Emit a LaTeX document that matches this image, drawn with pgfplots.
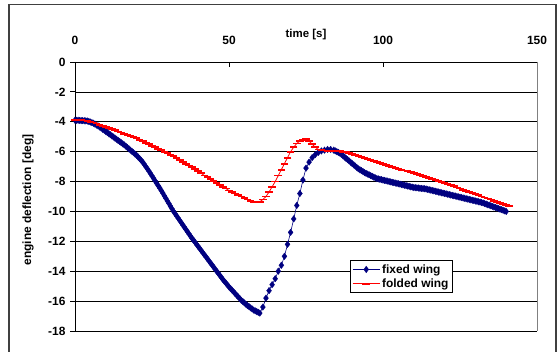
\documentclass[border=0pt]{standalone}
\usepackage{pgfplots}
\pgfplotsset{compat=1.18}
\usepackage{fontspec}
\setmainfont{Liberation Sans}
\definecolor{navy}{RGB}{0,0,128}
\pgfplotsset{legend image code/.code={\draw[mark repeat=2, mark phase=2, #1] plot coordinates {(0bp,0bp) (13.5bp,0bp) (27bp,0bp)};}}
\begin{document}
\begin{tikzpicture}[x=1bp,y=1bp]
\path[use as bounding box] (0,0) rectangle (560,351);
\draw[line width=1.2bp, black!75] (9,-5) -- (9,346.5) -- (556,346.5) -- (556,-5);
\begin{axis}[
  at={(75bp,20bp)}, anchor=south west,
  scale only axis, width=462bp, height=269bp,
  xmin=0, xmax=150, ymin=-18, ymax=0,
  axis x line=top, axis y line=left,
  axis line style={-, black, line width=0.8bp},
  xtick={0,50,100,150}, ytick={-18,-16,...,0},
  xtick align=inside, ytick align=outside,
  major tick length=5bp,
  tick style={black, line width=0.8bp},
  ymajorgrids, grid style={black, line width=0.7bp},
  /pgf/number format/assume math mode=true,
  tick label style={font=\fontsize{12}{14}\selectfont\bfseries},
  xticklabel style={anchor=south, yshift=14bp},
  yticklabel style={anchor=east, xshift=-1bp},
  xlabel={time [s]},
  xlabel style={font=\fontsize{11.5}{13}\selectfont\bfseries, at={(axis description cs:0.5,1)}, anchor=center, yshift=27bp},
  ylabel={engine deflection [deg]},
  ylabel style={font=\fontsize{12}{14}\selectfont\bfseries, at={(axis description cs:-0.1017,0.487)}, anchor=center},
  legend style={at={(axis description cs:0.595,0.141)}, anchor=south west, draw=black, line width=0.8bp, fill=white,
     font=\fontsize{12}{14}\selectfont\bfseries, inner sep=2bp, row sep=0bp},
  legend cell align=left,
  clip=false,
]
\draw[black!50, line width=1bp] (rel axis cs:1,0) -- (rel axis cs:1,1);
\addplot[navy, line width=0.6bp, mark=diamond*, mark size=3.3bp, mark options={fill=navy, draw=navy, line width=0.3bp}] coordinates {
(0,-3.9) (0.5,-3.9) (1,-3.9) (1.5,-3.91) (2,-3.92) (2.5,-3.92) (3,-3.93) (3.5,-3.94) (4,-3.95) (4.5,-3.98)
(5,-4.02) (5.5,-4.06) (6,-4.1) (6.5,-4.16) (7,-4.22) (7.5,-4.28) (8,-4.35) (8.5,-4.42) (9,-4.5) (9.5,-4.57)
(10,-4.65) (10.5,-4.72) (11,-4.8) (11.5,-4.87) (12,-4.95) (12.5,-5.02) (13,-5.1) (13.5,-5.17) (14,-5.25) (14.5,-5.32)
(15,-5.4) (15.5,-5.47) (16,-5.55) (16.5,-5.63) (17,-5.72) (17.5,-5.81) (18,-5.9) (18.5,-5.98) (19,-6.07) (19.5,-6.16)
(20,-6.25) (20.5,-6.36) (21,-6.47) (21.5,-6.58) (22,-6.7) (22.5,-6.85) (23,-7.0) (23.5,-7.15) (24,-7.3) (24.5,-7.46)
(25,-7.62) (25.5,-7.78) (26,-7.95) (26.5,-8.11) (27,-8.27) (27.5,-8.43) (28,-8.6) (28.5,-8.77) (29,-8.95) (29.5,-9.12)
(30,-9.3) (30.5,-9.47) (31,-9.65) (31.5,-9.82) (32,-10.0) (32.5,-10.15) (33,-10.3) (33.5,-10.45) (34,-10.6) (34.5,-10.75)
(35,-10.9) (35.5,-11.05) (36,-11.2) (36.5,-11.35) (37,-11.5) (37.5,-11.65) (38,-11.8) (38.5,-11.93) (39,-12.07) (39.5,-12.21)
(40,-12.35) (40.5,-12.48) (41,-12.62) (41.5,-12.76) (42,-12.9) (42.5,-13.03) (43,-13.17) (43.5,-13.31) (44,-13.45) (44.5,-13.58)
(45,-13.72) (45.5,-13.86) (46,-14.0) (46.5,-14.13) (47,-14.27) (47.5,-14.41) (48,-14.55) (48.5,-14.67) (49,-14.8) (49.5,-14.92)
(50,-15.05) (50.5,-15.16) (51,-15.27) (51.5,-15.38) (52,-15.5) (52.5,-15.61) (53,-15.72) (53.5,-15.83) (54,-15.95) (54.5,-16.03)
(55,-16.12) (55.5,-16.21) (56,-16.3) (56.5,-16.37) (57,-16.45) (57.5,-16.52) (58,-16.6) (58.5,-16.65) (59,-16.7) (59.5,-16.75)
(60,-16.8) (61,-16.4) (62,-15.8) (63,-15.3) (64,-14.9) (65,-14.5) (66,-14.0) (67,-13.6) (68,-13.0) (69,-12.2)
(70,-11.4) (71,-10.5) (72,-9.6) (73,-8.8) (74,-7.9) (75,-7.1) (76,-6.7) (77,-6.4) (78,-6.2) (79,-6.05)
(80,-5.95) (81,-5.9) (82,-5.85) (83,-5.85) (84,-5.9) (84.5,-5.95)
(85,-6.0) (85.5,-6.05) (86,-6.1) (86.5,-6.18) (87,-6.27) (87.5,-6.36) (88,-6.45) (88.5,-6.53) (89,-6.62) (89.5,-6.71)
(90,-6.8) (90.5,-6.88) (91,-6.97) (91.5,-7.06) (92,-7.15) (92.5,-7.21) (93,-7.27) (93.5,-7.33) (94,-7.4) (94.5,-7.45)
(95,-7.5) (95.5,-7.55) (96,-7.6) (96.5,-7.65) (97,-7.7) (97.5,-7.75) (98,-7.8) (98.5,-7.82) (99,-7.85) (99.5,-7.87)
(100,-7.9) (100.5,-7.92) (101,-7.95) (101.5,-7.97) (102,-8.0) (102.5,-8.02) (103,-8.05) (103.5,-8.07) (104,-8.1) (104.5,-8.12)
(105,-8.15) (105.5,-8.17) (106,-8.2) (106.5,-8.22) (107,-8.25) (107.5,-8.27) (108,-8.3) (108.5,-8.32) (109,-8.35) (109.5,-8.37)
(110,-8.4) (110.5,-8.41) (111,-8.42) (111.5,-8.43) (112,-8.45) (112.5,-8.46) (113,-8.47) (113.5,-8.48) (114,-8.5) (114.5,-8.52)
(115,-8.55) (115.5,-8.57) (116,-8.6) (116.5,-8.62) (117,-8.65) (117.5,-8.67) (118,-8.7) (118.5,-8.72) (119,-8.75) (119.5,-8.77)
(120,-8.8) (120.5,-8.82) (121,-8.85) (121.5,-8.87) (122,-8.9) (122.5,-8.92) (123,-8.95) (123.5,-8.97) (124,-9.0) (124.5,-9.02)
(125,-9.05) (125.5,-9.07) (126,-9.1) (126.5,-9.12) (127,-9.15) (127.5,-9.17) (128,-9.2) (128.5,-9.22) (129,-9.25) (129.5,-9.27)
(130,-9.3) (130.5,-9.32) (131,-9.35) (131.5,-9.37) (132,-9.4) (132.5,-9.43) (133,-9.47) (133.5,-9.51) (134,-9.55) (134.5,-9.58)
(135,-9.62) (135.5,-9.66) (136,-9.7) (136.5,-9.73) (137,-9.77) (137.5,-9.81) (138,-9.85) (138.5,-9.88) (139,-9.92) (139.5,-9.96)
(140,-10.0)
};
\addlegendentry{fixed wing}
\addplot[red, line width=0.8bp, mark=-, mark size=3.8bp, mark options={line width=1.8bp}] coordinates {
(0,-3.9) (1,-3.9) (2,-3.9) (3,-3.92) (4,-3.95) (5,-4.0) (6,-4.05) (7,-4.12) (8,-4.2) (9,-4.27)
(10,-4.35) (11,-4.42) (12,-4.5) (13,-4.57) (14,-4.65) (15,-4.72) (16,-4.8) (17,-4.87) (18,-4.95) (19,-5.02)
(20,-5.1) (21,-5.2) (22,-5.3) (23,-5.4) (24,-5.5) (25,-5.6) (26,-5.7) (27,-5.8) (28,-5.9) (29,-6.0)
(30,-6.1) (31,-6.2) (32,-6.3) (33,-6.42) (34,-6.55) (35,-6.67) (36,-6.8) (37,-6.92) (38,-7.05) (39,-7.17)
(40,-7.3) (41,-7.45) (42,-7.6) (43,-7.72) (44,-7.85) (45,-7.97) (46,-8.1) (47,-8.22) (48,-8.35) (49,-8.47)
(50,-8.6) (51,-8.7) (52,-8.8) (53,-8.9) (54,-9.0) (55,-9.1) (56,-9.2) (57,-9.28) (58,-9.35) (59,-9.4)
(60,-9.35) (61,-9.2) (62,-9.0) (63,-8.7) (64,-8.35) (65,-8.0) (66,-7.6) (67,-7.2) (68,-6.8) (69,-6.4)
(70,-6.0) (71,-5.7) (72,-5.45) (73,-5.3) (74,-5.2) (75,-5.15) (76,-5.3) (77,-5.5) (78,-5.7) (79,-5.85)
(80,-5.9) (81,-5.92) (82,-5.95) (83,-5.96) (84,-5.97) (85,-5.98) (86,-5.98) (87,-6.0) (88,-6.02) (89,-6.08)
(90,-6.14) (91,-6.21) (92,-6.28) (93,-6.35) (94,-6.42) (95,-6.48) (96,-6.55) (97,-6.62) (98,-6.68) (99,-6.75)
(100,-6.82) (101,-6.88) (102,-6.95) (103,-7.02) (104,-7.08) (105,-7.14) (106,-7.2) (107,-7.26) (108,-7.32) (109,-7.38)
(110,-7.45) (111,-7.52) (112,-7.58) (113,-7.65) (114,-7.72) (115,-7.78) (116,-7.85) (117,-7.92) (118,-7.98) (119,-8.05)
(120,-8.12) (121,-8.18) (122,-8.25) (123,-8.32) (124,-8.4) (125,-8.47) (126,-8.55) (127,-8.62) (128,-8.7) (129,-8.77)
(130,-8.85) (131,-8.92) (132,-9.0) (133,-9.07) (134,-9.13) (135,-9.2) (136,-9.28) (137,-9.35) (138,-9.42) (139,-9.49)
(140,-9.56) (141,-9.63)
};
\addlegendentry{folded wing}
\end{axis}
\end{tikzpicture}
\end{document}
